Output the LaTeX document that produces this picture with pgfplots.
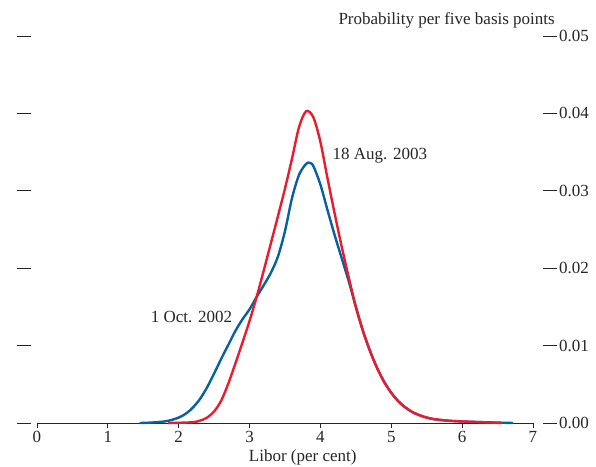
\documentclass[border=0pt]{standalone}
\usepackage{fontspec}
\setmainfont{Liberation Serif}
\usepackage{pgfplots}
\pgfplotsset{compat=1.18}
\usetikzlibrary{calc}
\definecolor{cblue}{RGB}{8,96,160}
\definecolor{cred}{RGB}{232,28,46}
\begin{document}
\begin{tikzpicture}[font=\fontsize{17}{20}\selectfont, text=black!85]
\begin{axis}[
  name=ax, scale only axis, width=496pt, height=387pt,
  xmin=0, xmax=7, ymin=0, ymax=0.05,
  axis x line=bottom, axis y line=none,
  axis line style={-, line width=0.8pt, black!85},
  xtick={0,1,2,3,4,5,6,7},
  tick align=outside, major tick length=5pt,
  every tick/.style={line width=0.8pt, black!85},
  xticklabel style={font=\fontsize{17}{20}\selectfont, text=black!85},
  /pgf/number format/assume math mode=true,
  clip=false,
]
\addplot[cblue, line width=2.4pt, smooth] coordinates {
(1.45,0.0000) (1.6,0.00005) (1.8,0.0002) (1.9,0.0004) (2.0,0.0007) (2.1,0.0012)
(2.2,0.0020) (2.3,0.0031) (2.4,0.0046) (2.5,0.0064) (2.6,0.0083) (2.7,0.0101)
(2.8,0.0119) (2.9,0.0134) (3.0,0.0147) (3.1,0.0163) (3.2,0.0178) (3.3,0.0194)
(3.4,0.0215) (3.5,0.0248) (3.6,0.0291) (3.7,0.0321) (3.8,0.0335) (3.85,0.0336)
(3.9,0.0332) (4.0,0.0308) (4.1,0.0275) (4.2,0.0243) (4.3,0.0213) (4.4,0.0183)
(4.5,0.0150) (4.6,0.0119) (4.7,0.0093) (4.8,0.0071) (4.9,0.0053) (5.0,0.0039)
(5.1,0.0028) (5.2,0.0020) (5.3,0.0014) (5.4,0.0010) (5.5,0.0007) (5.6,0.0005)
(5.8,0.0003) (6.0,0.0002) (6.3,0.0001) (6.72,0.0000)
};
\addplot[cred, line width=2.4pt, smooth] coordinates {
(1.85,0.0000) (2.0,0.00003) (2.2,0.0001) (2.3,0.0003) (2.4,0.0007) (2.5,0.0015)
(2.6,0.0029) (2.7,0.0051) (2.8,0.0077) (2.9,0.0104) (3.0,0.0132) (3.1,0.0163)
(3.2,0.0197) (3.3,0.0232) (3.4,0.0267) (3.5,0.0303) (3.6,0.0342) (3.7,0.0383)
(3.8,0.0403) (3.9,0.0395) (4.0,0.0363) (4.1,0.0316) (4.2,0.0271) (4.3,0.0228)
(4.4,0.0188) (4.5,0.0150) (4.6,0.0119) (4.7,0.0093) (4.8,0.0071) (4.9,0.0053)
(5.0,0.0039) (5.1,0.0028) (5.2,0.0020) (5.3,0.0014) (5.4,0.0010) (5.5,0.0007)
(5.6,0.0005) (5.8,0.0003) (6.0,0.0002) (6.3,0.0001) (6.56,0.0000)
};
\node[anchor=center] at (axis cs:2.18,0.0137) {1 Oct. 2002};
\node[anchor=center] at (axis cs:4.84,0.0345) {18 Aug. 2003};
\node[anchor=base east, inner sep=0pt] at (axis cs:7.31,0.05155) {Probability per five basis points};
\node[anchor=base, inner sep=0pt] at (axis cs:3.75,-0.0050) {Libor (per cent)};
\end{axis}
\begin{axis}[
  at={($(ax.south west)+(-6pt,0pt)$)}, anchor=south west,
  scale only axis, width=512pt, height=387pt,
  xmin=0, xmax=1, ymin=0, ymax=0.05,
  axis x line=none, axis y line=box,
  y axis line style={draw=none},
  ytick={0,0.01,0.02,0.03,0.04,0.05},
  scaled y ticks=false,
  ytick pos=both, yticklabel pos=right,
  tick align=outside, major tick length=13.5pt,
  every tick/.style={line width=0.8pt, black!85},
  yticklabel style={anchor=west, xshift=-1pt, font=\fontsize{17}{20}\selectfont, text=black!85},
  yticklabel style={/pgf/number format/fixed, /pgf/number format/fixed zerofill, /pgf/number format/precision=2},
  /pgf/number format/assume math mode=true,
]
\addplot[draw=none] coordinates {(0,0) (1,0.05)};
\end{axis}
\pgfresetboundingbox
\path[use as bounding box] ([shift={(-37pt,-43pt)}]ax.south west) rectangle ([shift={(559pt,423pt)}]ax.south west);
\end{tikzpicture}
\end{document}
